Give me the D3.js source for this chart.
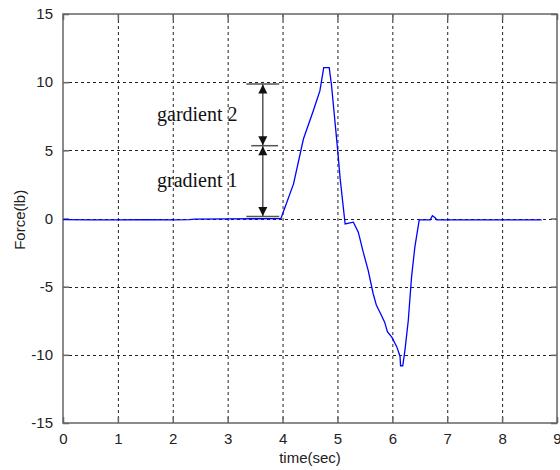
<!DOCTYPE html>
<html>
<head>
<meta charset="utf-8">
<script src="https://cdn.jsdelivr.net/npm/d3@7"></script>
<style>
    html, body { margin: 0; padding: 0; background: #fff; }
    svg { display: block; }
    .tick-label { font-family: "Liberation Sans", Arial, sans-serif; font-size: 15px; fill: #222; }
    .note { font-family: "Liberation Serif", "Times New Roman", serif; font-size: 20px; fill: #111; }
</style>
</head>
<body>
<div id="chart"></div>
<script>
/*jslint browser: true*/

// force trace (time in sec, force in lb)
var time = [0, 0.5, 1.0, 1.5, 2.0, 2.3, 2.4, 3.0, 3.5, 3.97,
    4.20, 4.38, 4.56, 4.68, 4.75, 4.85, 4.89, 5.00, 5.05, 5.14, 5.29,
    5.38, 5.47, 5.56, 5.65, 5.71, 5.80, 5.86, 5.91, 5.99, 6.08, 6.14,
    6.15, 6.19, 6.23, 6.29, 6.35, 6.41, 6.49, 6.69, 6.73, 6.78, 6.81, 8.72];
var force = [-0.08, -0.1, -0.1, -0.09, -0.1, -0.08, -0.04, -0.03, -0.02, 0,
    2.54, 5.83, 7.9, 9.36, 11.07, 11.07, 9.85, 5.2, 2.9, -0.4, -0.27,
    -1.0, -2.47, -3.8, -5.5, -6.37, -7.1, -7.6, -8.3, -8.7, -9.4, -10.1,
    -10.8, -10.8, -9.65, -7.5, -4.3, -2.1, -0.1, -0.1, 0.2, 0.05, -0.1, -0.1];

var xTicks = [0, 1, 2, 3, 4, 5, 6, 7, 8, 9];
var yTicks = [-15, -10, -5, 0, 5, 10, 15];

// annotation levels (lb) and where the arrows stand (sec)
var gradLevels = [9.86, 5.34, 0.15];
var gradLabels = ['gardient 2', 'gradient 1'];
var arrowTime = 3.64;

(function (d3) {
    'use strict';

    var width = 560, height = 470;
    var box = {left: 63, right: 557, top: 14, bottom: 423};
    var grey = '#666';

    var svg = d3.select('#chart').append('svg')
        .attr('width', width)
        .attr('height', height);

    var x = d3.scaleLinear().domain([0, 9]).range([box.left, box.right]);
    var y = d3.scaleLinear().domain([-15, 15]).range([box.bottom, box.top]);

    // dotted grid
    var grid = svg.append('g')
        .attr('stroke', '#222')
        .attr('stroke-width', 1)
        .attr('stroke-dasharray', '3,3');
    grid.selectAll('.gx').data(xTicks.slice(1, -1)).enter().append('line')
        .attr('x1', function (d) { return x(d) + 0.5; })
        .attr('x2', function (d) { return x(d) + 0.5; })
        .attr('y1', box.top)
        .attr('y2', box.bottom);
    grid.selectAll('.gy').data(yTicks.slice(1, -1)).enter().append('line')
        .attr('y1', function (d) { return Math.round(y(d)) + 0.5; })
        .attr('y2', function (d) { return Math.round(y(d)) + 0.5; })
        .attr('x1', box.left)
        .attr('x2', box.right);

    // axes, ticks pointing inward on all four sides; plain hyphen minus like the original
    var plain = function (d) { return String(d); };
    var bottomAxis = d3.axisBottom(x).tickValues(xTicks).tickSize(-6).tickPadding(10).tickFormat(plain);
    var topAxis = d3.axisTop(x).tickValues(xTicks).tickSize(-6).tickFormat('');
    var leftAxis = d3.axisLeft(y).tickValues(yTicks).tickSize(-6).tickPadding(10).tickFormat(plain);
    var rightAxis = d3.axisRight(y).tickValues(yTicks).tickSize(-6).tickFormat('');

    function style(g) {
        g.select('.domain').remove();
        g.selectAll('.tick line').attr('stroke', grey).attr('stroke-width', 1.5);
        g.selectAll('.tick text').attr('class', 'tick-label').attr('fill', null);
    }

    svg.append('g').attr('transform', 'translate(0,' + box.bottom + ')').call(bottomAxis).call(style);
    svg.append('g').attr('transform', 'translate(0,' + box.top + ')').call(topAxis).call(style);
    svg.append('g').attr('transform', 'translate(' + box.left + ',0)').call(leftAxis).call(style);
    svg.append('g').attr('transform', 'translate(' + box.right + ',0)').call(rightAxis).call(style);

    svg.append('rect')
        .attr('x', box.left)
        .attr('y', box.top)
        .attr('width', box.right - box.left)
        .attr('height', box.bottom - box.top)
        .attr('fill', 'none')
        .attr('stroke', grey)
        .attr('stroke-width', 1.5);

    // force trace
    var line = d3.line()
        .x(function (d) { return x(d[0]); })
        .y(function (d) { return y(d[1]); });
    svg.append('path')
        .datum(d3.zip(time, force))
        .attr('d', line)
        .attr('fill', 'none')
        .attr('stroke', '#0000ff')
        .attr('stroke-width', 1.3);

    // gradient annotation: caps, shaft and arrowheads
    var ann = svg.append('g').attr('stroke', '#555').attr('fill', '#111');
    var capHalf = [0.3, 0.21, 0.3];
    ann.selectAll('.cap').data(gradLevels).enter().append('line')
        .attr('x1', function (d, i) { return x(arrowTime - capHalf[i]); })
        .attr('x2', function (d, i) { return x(arrowTime + (i === 1 ? 0.28 : 0.3)); })
        .attr('y1', function (d) { return y(d); })
        .attr('y2', function (d) { return y(d); })
        .attr('stroke-width', 1.5);
    ann.append('line')
        .attr('x1', x(arrowTime)).attr('x2', x(arrowTime))
        .attr('y1', y(gradLevels[0])).attr('y2', y(gradLevels[2]))
        .attr('stroke-width', 1.5);

    var heads = [];
    d3.pairs(gradLevels).forEach(function (p) {
        heads.push({v: p[0], dir: -1});
        heads.push({v: p[1], dir: 1});
    });
    ann.selectAll('.head').data(heads).enter().append('path')
        .attr('stroke', 'none')
        .attr('d', function (d) {
            var cx = x(arrowTime), tip = y(d.v) + (d.dir > 0 ? -0.5 : 0.5);
            var base = tip - d.dir * 9;
            return 'M' + cx + ',' + tip + 'L' + (cx - 4.5) + ',' + base + 'L' + (cx + 4.5) + ',' + base + 'Z';
        });

    svg.selectAll('.note').data(gradLabels).enter().append('text')
        .attr('class', 'note')
        .attr('x', 157)
        .attr('y', function (d, i) { return y((gradLevels[i] + gradLevels[i + 1]) / 2) + 6; })
        .text(function (d) { return d; });

    // axis titles
    svg.append('text')
        .attr('class', 'tick-label')
        .attr('x', x(4.5))
        .attr('y', 463)
        .attr('text-anchor', 'middle')
        .text('time(sec)');
    svg.append('text')
        .attr('class', 'tick-label')
        .attr('transform', 'translate(25,' + y(-0.1) + ') rotate(-90)')
        .attr('text-anchor', 'middle')
        .text('Force(lb)');
}(window.d3));
</script>
</body>
</html>
